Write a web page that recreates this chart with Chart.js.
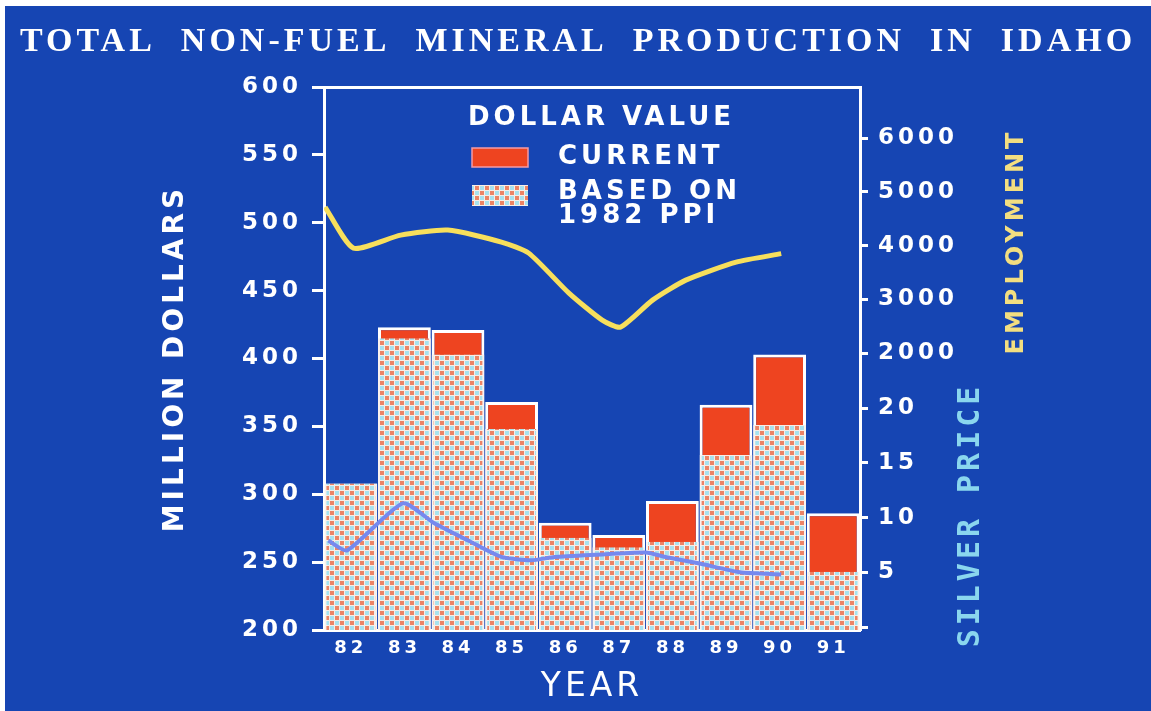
<!DOCTYPE html>
<html>
<head>
<meta charset="utf-8">
<title>Total Non-Fuel Mineral Production in Idaho</title>
<script src="https://cdn.jsdelivr.net/npm/chart.js@4.4.1/dist/chart.umd.min.js"></script>
<style>
html,body{margin:0;padding:0;background:#fff;}
#wrap{position:absolute;left:5px;top:6px;width:1146px;height:705px;background:#1645b3;}
</style>
</head>
<body>
<div id="wrap"><canvas id="c"></canvas></div>
<script>
var YEARS=['82','83','84','85','86','87','88','89','90','91'];
var CURRENT=[308,423,421,368,279,270,295,366,403,286];
var PPI_1982=[308,415,403,348,268,261,265,329,351,243];
var EMP_X=[81.52,82.05,82.93,83.81,84.81,85.32,86.07,86.69,87.03,87.63,88.25,89.19,90.03];
var EMPLOYMENT=[4716,3953,4195,4288,4065,3860,3116,2614,2484,2986,3358,3693,3850];
var SILVER_X=[81.58,81.93,82.97,83.55,84.19,84.81,85.37,85.8,86.56,87.5,87.87,88.51,89.26,90.03];
var SILVER=[7.9,7.0,11.3,9.5,7.9,6.4,6.1,6.4,6.6,6.8,6.4,5.8,5.0,4.8];
var EMP_TICKS=[2000,3000,4000,5000,6000];
var SILVER_TICKS=[0,5,10,15,20];
var TITLE='TOTAL  NON-FUEL  MINERAL  PRODUCTION  IN  IDAHO';
var LEGEND_TITLE='DOLLAR VALUE';
var LEGEND_LABELS=[['CURRENT'],['BASED ON','1982 PPI']];
var EMP_TITLE='EMPLOYMENT',SILVER_TITLE='SILVER PRICE';

var RED='#ee4420',WHITE='#ffffff';
var canvas=document.getElementById('c');
function dotPattern(){
  var t=document.createElement('canvas');t.width=10;t.height=10;
  var g=t.getContext('2d');
  g.fillStyle='#f8eee8';g.fillRect(0,0,10,10);
  g.fillStyle='#ec8466';g.fillRect(0,0,4,4);g.fillRect(5,5,4,4);
  g.fillStyle='#a8e2ee';g.fillRect(5,0,4,4);g.fillRect(0,5,4,4);
  return canvas.getContext('2d').createPattern(t,'repeat');
}
var dots=dotPattern();

function pts(xs,ys){
  var out=[];
  for(var i=0;i<xs.length;i++) out.push({x:xs[i],y:ys[i]});
  return out;
}
function tickFont(size){return {family:'DejaVu Sans',weight:'bold',size:size};}
function plain(v){return String(v);}
function vText(ctx,txt,x,y,color,font){
  ctx.save();
  ctx.translate(x,y);ctx.rotate(-Math.PI/2);
  ctx.fillStyle=color;ctx.font=font;ctx.textAlign='center';ctx.textBaseline='middle';
  ctx.fillText(txt,0,0);
  ctx.restore();
}

var overlay={
  id:'overlay',
  beforeUpdate:function(chart){chart.ctx.letterSpacing='4px';},
  beforeDraw:function(chart){chart.ctx.letterSpacing='4px';},
  afterDraw:function(chart){
    var ctx=chart.ctx,a=chart.chartArea;
    ctx.save();
    ctx.letterSpacing='4px';
    ctx.textAlign='left';ctx.textBaseline='middle';
    ctx.fillStyle=WHITE;ctx.font='bold 26px "DejaVu Sans"';
    ctx.fillText(LEGEND_TITLE,a.left+144,a.top+31);
    ctx.fillStyle=RED;ctx.fillRect(a.left+148,a.top+61,56,19);
    ctx.strokeStyle='#f39aa6';ctx.lineWidth=1.5;ctx.strokeRect(a.left+148,a.top+61,56,19);
    ctx.fillStyle=dots;ctx.fillRect(a.left+148,a.top+98,56,21);
    ctx.fillStyle=WHITE;
    ctx.fillText(LEGEND_LABELS[0][0],a.left+234,a.top+70);
    ctx.fillText(LEGEND_LABELS[1][0],a.left+234,a.top+105);
    ctx.fillText(LEGEND_LABELS[1][1],a.left+234,a.top+129);
    var e=chart.scales.yEmp,s=chart.scales.ySilver;
    vText(ctx,EMP_TITLE,e.left+157,(e.top+e.bottom)/2+8,'#f3de80','bold 24px "DejaVu Sans"');
    vText(ctx,SILVER_TITLE,s.left+111,(s.top+s.bottom)/2+10,'#8ad6ee','bold 30px "DejaVu Sans Mono"');
    ctx.restore();
  }
};

var rightGrid={display:true,drawOnChartArea:false,drawTicks:true,tickLength:8,tickColor:WHITE,tickWidth:3};
var whiteBorder={display:true,color:WHITE,width:3};

new Chart(canvas,{
  type:'bar',
  data:{
    labels:YEARS,
    datasets:[
      {type:'line',label:'Employment',data:pts(EMP_X,EMPLOYMENT),xAxisID:'xLine',yAxisID:'yEmp',
        borderColor:'#f7df5c',borderWidth:5,pointRadius:0,tension:0.2,order:0},
      {type:'line',label:'Silver price',data:pts(SILVER_X,SILVER),xAxisID:'xLine',yAxisID:'ySilver',
        borderColor:'#7689ee',borderWidth:4,pointRadius:0,tension:0.2,order:0},
      {label:'Based on 1982 PPI',data:PPI_1982,xAxisID:'x',yAxisID:'y',backgroundColor:dots,
        borderColor:'#fbf3ee',borderWidth:{left:2,right:2,top:0,bottom:0},grouped:false,
        barPercentage:1,categoryPercentage:0.985,order:1},
      {label:'Current',data:CURRENT,xAxisID:'x',yAxisID:'y',backgroundColor:RED,
        borderColor:WHITE,borderWidth:3,grouped:false,barPercentage:1,categoryPercentage:0.985,order:2}
    ]
  },
  options:{
    responsive:true,maintainAspectRatio:false,animation:false,
    layout:{padding:0},
    plugins:{
      legend:{display:false},tooltip:{enabled:false},
      title:{display:true,text:TITLE,color:WHITE,
        font:{family:'Liberation Serif',weight:'bold',size:34,lineHeight:1.2},padding:{top:16,bottom:0}}
    },
    scales:{
      x:{type:'category',position:'bottom',offset:true,
        grid:{display:false,drawTicks:false},border:whiteBorder,
        ticks:{color:WHITE,font:tickFont(18),padding:8},
        title:{display:true,text:'YEAR',color:WHITE,font:{family:'DejaVu Sans',size:33},padding:{top:0,bottom:4}},
        afterFit:function(s){s.height=81;}},
      xTop:{type:'category',position:'top',grid:{display:false,drawTicks:false},
        ticks:{display:false},border:whiteBorder,
        afterFit:function(s){s.height=24.2;}},
      xLine:{type:'linear',position:'bottom',min:81.5,max:91.5,offset:false,
        grid:{display:false,drawTicks:false},border:{display:false},ticks:{display:false},
        afterFit:function(s){s.height=0;}},
      y:{position:'left',min:200,max:600,
        ticks:{stepSize:50,color:WHITE,font:tickFont(23),padding:10,callback:plain},
        grid:{display:true,drawOnChartArea:false,drawTicks:true,tickLength:12,tickColor:WHITE,tickWidth:3},
        border:whiteBorder,
        title:{display:true,text:'MILLION DOLLARS',color:WHITE,font:tickFont(28),padding:{top:154,bottom:0}},
        afterFit:function(s){s.width=319;}},
      yEmp:{position:'right',stack:'right',stackWeight:293,min:1500,max:6950,
        afterBuildTicks:function(s){s.ticks=EMP_TICKS.map(function(v){return {value:v};});},
        ticks:{color:WHITE,font:tickFont(23),padding:10,autoSkip:false,callback:plain},
        grid:rightGrid,border:whiteBorder,
        afterFit:function(s){s.width=291;}},
      ySilver:{position:'right',stack:'right',stackWeight:250,min:-0.27,max:22.56,
        afterBuildTicks:function(s){s.ticks=SILVER_TICKS.map(function(v){return {value:v};});},
        ticks:{color:WHITE,font:tickFont(23),padding:10,autoSkip:false,
          callback:function(v){return v===0?'':String(v);}},
        grid:rightGrid,border:whiteBorder,
        afterFit:function(s){s.width=291;}}
    }
  },
  plugins:[overlay]
});
</script>
</body>
</html>
